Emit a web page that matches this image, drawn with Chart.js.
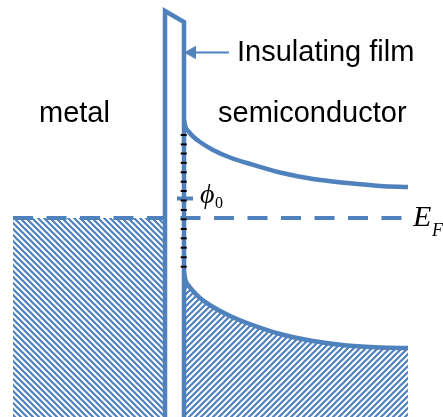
<!DOCTYPE html>
<html>
<head>
<meta charset="utf-8">
<script src="https://cdn.jsdelivr.net/npm/chart.js"></script>
<style>
    body { margin: 0; background: #fff; }
    canvas { display: block; }
</style>
</head>
<body>
<canvas id="band" width="443" height="417"></canvas>
<script>
    //picture coordinates (x right, y down)
    const filmX = [165, 165, 184, 184];
    const filmY = [417, 11, 22, 417];

    const cbX = [184, 185.5, 189, 193, 200, 213, 230, 247, 280, 313, 347, 380, 408];
    const cbY = [120, 127, 132, 136.5, 142, 150, 157.5, 163, 172.5, 179, 183, 186, 187];

    const vbX = [184, 185.5, 189, 193, 200, 213, 230, 247, 280, 313, 347, 380, 408];
    const vbY = [272, 280, 286, 291, 298, 307, 316, 323, 334, 341, 345.5, 347.5, 348];

    const metalX = [13, 163];
    const fermiY = 218;
    const fermiRightX = [180.5, 402];

    const stateY = [135, 144.4, 153.5, 162.8, 172.3, 181.7, 191, 200.5, 210, 219.3, 229, 238.3, 247.7, 257.3, 266.7];
    const stateX = 183.7;

    const phiLevel = 198.5;
    const phiX = [177, 193];

    const arrowX = [188, 229];
    const arrowY = 52.5;

    const blue = '#4F81BD';

    function hatch(dir) {
        const p = 6;
        const c = document.createElement('canvas');
        c.width = p; c.height = p;
        const g = c.getContext('2d');
        g.strokeStyle = blue;
        g.lineWidth = 2.2;
        g.beginPath();
        if (dir === 'back') {
            g.moveTo(-1, -1); g.lineTo(p + 1, p + 1);
            g.moveTo(-1, p - 1); g.lineTo(1, p + 1);
            g.moveTo(p - 1, -1); g.lineTo(p + 1, 1);
        } else {
            g.moveTo(-1, p + 1); g.lineTo(p + 1, -1);
            g.moveTo(-1, 1); g.lineTo(1, -1);
            g.moveTo(p - 1, p + 1); g.lineTo(p + 1, p - 1);
        }
        g.stroke();
        return g.createPattern(c, 'repeat');
    }

    const pts = (xs, ys) => xs.map((x, i) => ({x: x, y: Array.isArray(ys) ? ys[i] : ys}));

    const labels = [
        {text: 'Insulating film', x: 237, y: 61, font: '29px "Liberation Sans"'},
        {text: 'metal', x: 39, y: 122, font: '29px "Liberation Sans"'},
        {text: 'semiconductor', x: 218, y: 122, font: '29px "Liberation Sans"'},
        {text: 'ϕ', x: 200, y: 203, font: 'italic 28px "Liberation Serif"'},
        {text: '0', x: 215, y: 208, font: '16px "Liberation Serif"'},
        {text: 'E', x: 413, y: 226, font: 'italic 30px "Liberation Serif"'},
        {text: 'F', x: 432, y: 236, font: 'italic 18px "Liberation Serif"'}
    ];

    const textPlugin = {
        id: 'texts',
        afterDatasetsDraw(chart) {
            const ctx = chart.ctx;
            const sx = chart.scales.x, sy = chart.scales.y;
            ctx.save();
            ctx.fillStyle = '#000';
            ctx.textBaseline = 'alphabetic';
            labels.forEach(l => {
                ctx.font = l.font;
                ctx.fillText(l.text, sx.getPixelForValue(l.x), sy.getPixelForValue(l.y));
            });
            ctx.restore();
        }
    };

    const line = {showLine: true, pointRadius: 0, fill: false, borderColor: blue, borderWidth: 4.5, tension: 0, clip: false};

    new Chart(document.getElementById('band'), {
        type: 'scatter',
        data: {
            datasets: [
                //hatched metal
                {...line, data: pts(metalX, fermiY), borderWidth: 0, fill: {value: 417}, backgroundColor: hatch('back'), order: 9},
                //hatched valence band
                {...line, data: pts(vbX, vbY), cubicInterpolationMode: 'monotone', fill: {value: 417}, backgroundColor: hatch('fwd'), order: 8},
                //fermi level
                {...line, data: pts(metalX, fermiY), borderWidth: 4, borderDash: [20, 13.5], order: 7},
                {...line, data: pts(fermiRightX, fermiY), borderWidth: 4, borderDash: [20, 13.5], order: 7},
                //conduction band
                {...line, data: pts(cbX, cbY), cubicInterpolationMode: 'monotone', order: 6},
                //film
                {...line, data: pts(filmX, filmY), borderJoinStyle: 'miter', order: 5},
                //phi0 level
                {...line, data: pts(phiX, phiLevel), borderWidth: 4, order: 4},
                //interface states
                {data: pts(stateY.map(() => stateX), stateY), pointStyle: 'line', pointRadius: 3, borderColor: '#000', borderWidth: 2, clip: false, order: 3},
                //arrow
                {...line, data: pts(arrowX, arrowY), borderWidth: 2, order: 2},
                {data: [{x: 192, y: arrowY}], pointStyle: 'triangle', rotation: 270, pointRadius: 7, backgroundColor: blue, borderColor: blue, borderWidth: 1, clip: false, order: 1}
            ]
        },
        options: {
            responsive: false,
            animation: false,
            events: [],
            layout: {padding: 0, autoPadding: false},
            plugins: {legend: {display: false}, tooltip: {enabled: false}},
            scales: {
                x: {type: 'linear', min: 0, max: 443, display: false},
                y: {type: 'linear', min: 0, max: 417, reverse: true, display: false}
            }
        },
        plugins: [textPlugin]
    });
</script>
</body>
</html>
